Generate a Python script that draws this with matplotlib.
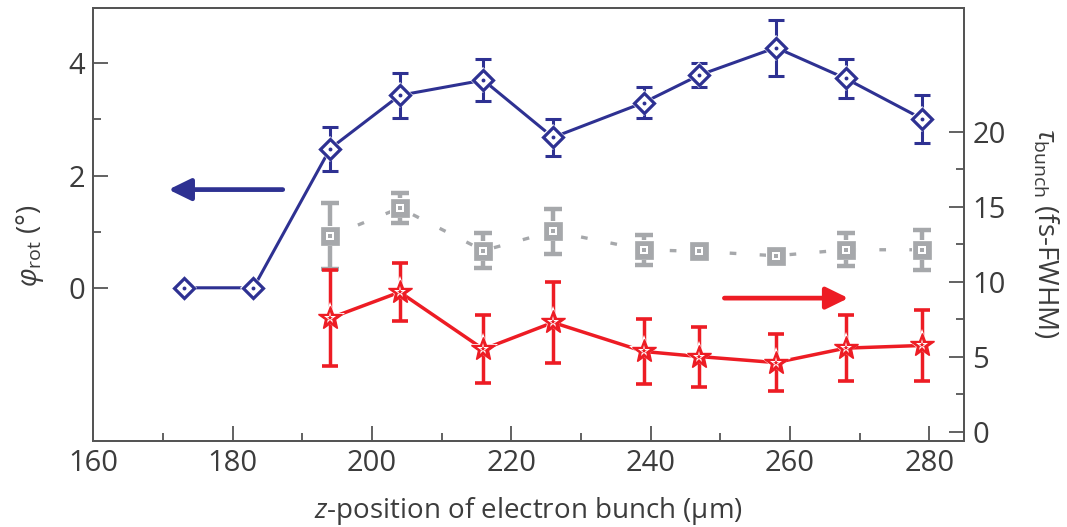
import numpy as np
import matplotlib
matplotlib.use('Agg')
import matplotlib.pyplot as plt

# ---------------- data ----------------
x_phi = [173, 183, 194, 204, 216, 226, 239, 247, 258, 268, 279]
phi = [0.0, 0.0, 2.48, 3.43, 3.70, 2.68, 3.30, 3.79, 4.28, 3.73, 3.01]
phi_err = [0.0, 0.0, 0.39, 0.40, 0.37, 0.33, 0.27, 0.22, 0.50, 0.35, 0.43]

x_tau = [194, 204, 216, 226, 239, 247, 258, 268, 279]
tau_red = [7.58, 9.31, 5.51, 7.29, 5.36, 5.02, 4.62, 5.58, 5.76]
tau_red_err = [3.17, 1.95, 2.28, 2.67, 2.17, 2.00, 1.92, 2.19, 2.39]
tau_gray = [13.02, 14.91, 12.07, 13.36, 12.13, 12.02, 11.73, 12.13, 12.13]
tau_gray_err = [2.19, 1.00, 1.15, 1.50, 1.00, 0.45, 0.30, 1.10, 1.33]

x_ticks = [160, 180, 200, 220, 240, 260, 280]
x_minor = [170, 190, 210, 230, 250, 270]
phi_ticks = [0, 2, 4]
phi_minor = [1, 3]
tau_ticks = [0, 5, 10, 15, 20]
tau_minor = [2.5, 7.5, 12.5, 17.5]

arrow_phi = ((187.2, 1.75), (170.8, 1.75))   # (tail, head) in left-axis coords
arrow_tau = ((250.6, 8.91), (268.4, 8.91))   # (tail, head) in right-axis coords

# ---------------- style ----------------
plt.rcParams['font.family'] = ['Open Sans', 'DejaVu Sans']
plt.rcParams['mathtext.fontset'] = 'custom'
plt.rcParams['mathtext.rm'] = 'Open Sans'
plt.rcParams['mathtext.it'] = 'Open Sans:italic'
plt.rcParams['mathtext.bf'] = 'Open Sans:bold'

BLUE = '#2e3192'
RED = '#ed1c24'
GRAY = '#a6a8ab'
TXT = '#3c3c3c'
SPINE = '#555555'

fig = plt.figure(figsize=(10.67, 5.27), dpi=100)
ax = fig.add_axes([0.0874, 0.1632, 0.8161, 0.8210])
ax2 = ax.twinx()

# ---------------- blue series (left axis) ----------------
xp = np.array(x_phi, float)
yp = np.array(phi, float)
ep = np.array(phi_err, float)
m = ep > 0
ax.plot(xp, yp, color=BLUE, lw=2.2, zorder=2)
ax.errorbar(xp[m], yp[m], yerr=ep[m], fmt='none', ecolor=BLUE,
            elinewidth=2.2, capsize=5.5, capthick=2.2, zorder=2)
ax.plot(xp, yp, ls='none', marker='D', ms=13, mfc='white', mec='white', mew=0, zorder=3)
ax.plot(xp, yp, ls='none', marker='D', ms=10.2, mfc='white', mec=BLUE, mew=2.3, zorder=4)
ax.plot(xp, yp, ls='none', marker='o', ms=2.8, mfc=BLUE, mec=BLUE, mew=0, zorder=5)

# ---------------- gray series (right axis) ----------------
xt = np.array(x_tau, float)
yg = np.array(tau_gray, float)
eg = np.array(tau_gray_err, float)
ax2.plot(xt, yg, color=GRAY, lw=2.4, ls=(0, (2, 7)), zorder=2)
ax2.errorbar(xt, yg, yerr=eg, fmt='none', ecolor=GRAY,
             elinewidth=3.2, capsize=6.5, capthick=3.2, zorder=2)
ax2.plot(xt, yg, ls='none', marker='s', ms=15, mfc='white', mec='white', mew=0, zorder=3)
ax2.plot(xt, yg, ls='none', marker='s', ms=12.5, mfc=GRAY, mec=GRAY, mew=0.5, zorder=4)
ax2.plot(xt, yg, ls='none', marker='s', ms=6, mfc='white', mec='white', mew=0, zorder=5)
ax2.plot(xt, yg, ls='none', marker='s', ms=2.4, mfc=GRAY, mec=GRAY, mew=0, zorder=6)

# ---------------- red series (right axis) ----------------
yr = np.array(tau_red, float)
er = np.array(tau_red_err, float)
ax2.plot(xt, yr, color=RED, lw=2.5, zorder=2)
ax2.errorbar(xt, yr, yerr=er, fmt='none', ecolor=RED,
             elinewidth=2.5, capsize=6, capthick=2.6, zorder=2)
ax2.plot(xt, yr, ls='none', marker='*', ms=23, mfc='white', mec='white', mew=0, zorder=3)
ax2.plot(xt, yr, ls='none', marker='*', ms=18, mfc=RED, mec=RED, mew=1, zorder=4)
ax2.plot(xt, yr, ls='none', marker='*', ms=8.5, mfc='white', mec='white', mew=0, zorder=5)
ax2.plot(xt, yr, ls='none', marker='*', ms=3.8, mfc=RED, mec=RED, mew=0, zorder=6)

# ---------------- arrows ----------------
ax.annotate('', xy=arrow_phi[1], xytext=arrow_phi[0],
            arrowprops=dict(arrowstyle='-|>,head_length=0.45,head_width=0.22',
                            color=BLUE, lw=3.4, mutation_scale=30,
                            shrinkA=0, shrinkB=0))
ax2.annotate('', xy=arrow_tau[1], xytext=arrow_tau[0],
             arrowprops=dict(arrowstyle='-|>,head_length=0.45,head_width=0.22',
                             color=RED, lw=3.4, mutation_scale=30,
                             shrinkA=0, shrinkB=0))

# ---------------- axes ----------------
ax.set_xlim(160, 285)
ax.set_ylim(-2.73, 4.98)
ax2.set_ylim(-0.6, 28.2)

ax.set_xticks(x_ticks)
ax.set_xticks(x_minor, minor=True)
ax.set_yticks(phi_ticks)
ax.set_yticks(phi_minor, minor=True)
ax2.set_yticks(tau_ticks)
ax2.set_yticks(tau_minor, minor=True)

for a in (ax, ax2):
    for s in a.spines.values():
        s.set_color(SPINE)
        s.set_linewidth(1.4)

ax.tick_params(which='both', direction='in', top=False, right=False,
               color=SPINE, labelcolor=TXT, labelsize=21, width=1.3, pad=6)
ax.tick_params(which='major', length=10.5)
ax.tick_params(which='minor', length=6)
ax2.tick_params(which='both', direction='in', left=False, right=True,
                color=SPINE, labelcolor=TXT, labelsize=21, width=1.3, pad=6)
ax2.tick_params(which='major', length=10.5)
ax2.tick_params(which='minor', length=6)

ax.set_xlabel('$z$-position of electron bunch (μm)', fontsize=20, color=TXT)
ax.xaxis.set_label_coords(0.5, -0.162)
ax.xaxis.label.set_va('center')

ax.set_ylabel(r'$\varphi_{\mathrm{rot}}$ (°)', fontsize=20, color=TXT)
ax.yaxis.set_label_coords(-0.073, 0.45)
ax.yaxis.label.set_va('center')

ax2.set_ylabel(r'$\tau_{\mathrm{bunch}}$ (fs-FWHM)', fontsize=20, color=TXT, rotation=270)
ax2.yaxis.set_label_coords(1.093, 0.48)
ax2.yaxis.label.set_va('center')

fig.savefig('out.png', dpi=100)
